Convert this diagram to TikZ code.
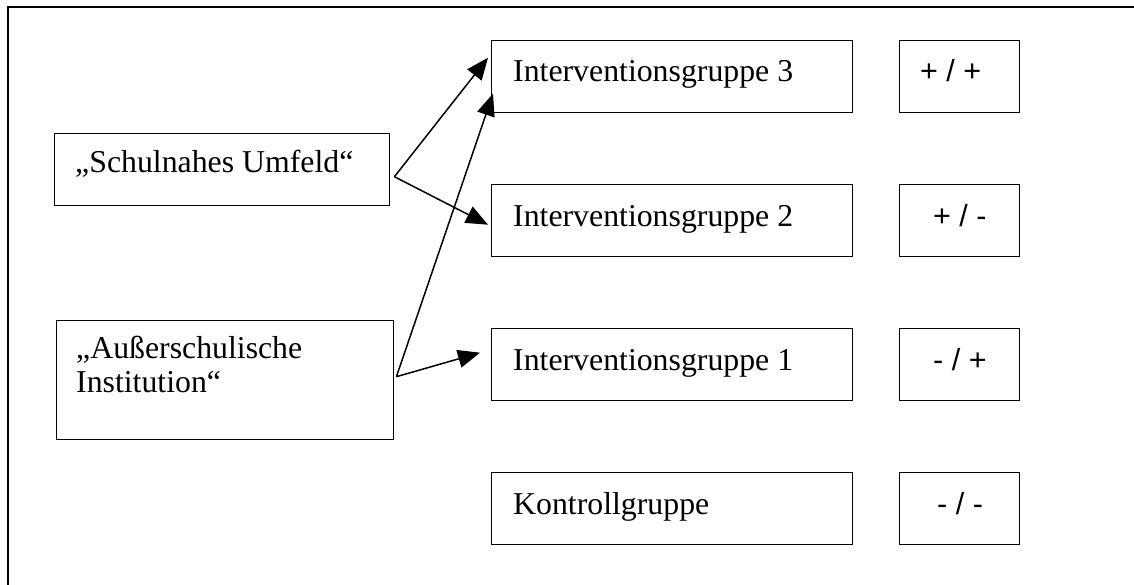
\documentclass[tikz,border=0pt]{standalone}
\usepackage{fontspec}
\setmainfont{Liberation Serif}
\newfontfamily\arialfont{Liberation Sans}
\usetikzlibrary{arrows.meta}
\begin{document}
\begin{tikzpicture}[x=1pt,y=-1pt,
  box/.style={draw, line width=1.4pt, inner sep=0pt, anchor=north west},
  igbox/.style={box, minimum width=361pt, minimum height=72pt},
  symbox/.style={box, minimum width=120pt, minimum height=72pt},
  lbl/.style={anchor=base west, inner sep=0pt, align=left, font=\fontsize{31.8}{34}\selectfont},
  sym/.style={anchor=base west, inner sep=0pt, font=\arialfont\fontsize{30.5}{34}\selectfont},
  arr/.style={line width=1.5pt, -{Triangle[length=22pt,width=18pt]}}]
\useasboundingbox (0,0) rectangle (1134,585);
% outer frame (top and left)
\draw[line width=2pt] (8,585) -- (8,7) -- (1134,7);

% left boxes
\node[box, minimum width=335pt, minimum height=72pt] (su) at (54,133) {};
\node[lbl] (sut) at (75,173) {„Schulnahes Umfeld“};
\node[box, minimum width=337pt, minimum height=119pt] (au) at (56,320) {};
\node[lbl, anchor=north west] (aut) at (76,336) {„Außerschulische\\Institution“};

% group boxes
\node[igbox] (ig3) at (491,40) {};
\node[igbox] (ig2) at (491,184) {};
\node[igbox] (ig1) at (491,328) {};
\node[igbox] (kg)  at (491,472) {};
\node[lbl] (ig3t) at (513,82) {Interventionsgruppe 3};
\node[lbl] (ig2t) at (513,226) {Interventionsgruppe 2};
\node[lbl] (ig1t) at (513,370) {Interventionsgruppe 1};
\node[lbl] (kgt)  at (513,514) {Kontrollgruppe};

% symbol boxes
\node[symbox] (s3) at (899,40) {};
\node[symbox] (s2) at (899,184) {};
\node[symbox] (s1) at (899,328) {};
\node[symbox] (s0) at (899,472) {};
\node[sym] (s3t) at (920,82) {+ / +};
\node[sym] (s2t) at (933,226) {+ / -};
\node[sym] (s1t) at (933,370) {- / +};
\node[sym] (s0t) at (937,514) {- / -};

% arrows
\draw[arr] ([xshift=4pt,yshift=-7pt]su.east) -- ([xshift=-3pt,yshift=19pt]ig3.west);
\draw[arr] ([xshift=4pt,yshift=-7pt]su.east) -- ([xshift=-3pt,yshift=-4pt]ig2.west);
\draw[arr] ([xshift=2pt,yshift=3.5pt]au.east) -- ([xshift=2pt,yshift=-17pt]ig3.west);
\draw[arr] ([xshift=2pt,yshift=3.5pt]au.east) -- ([xshift=-11pt,yshift=12pt]ig1.west);
\end{tikzpicture}
\end{document}
